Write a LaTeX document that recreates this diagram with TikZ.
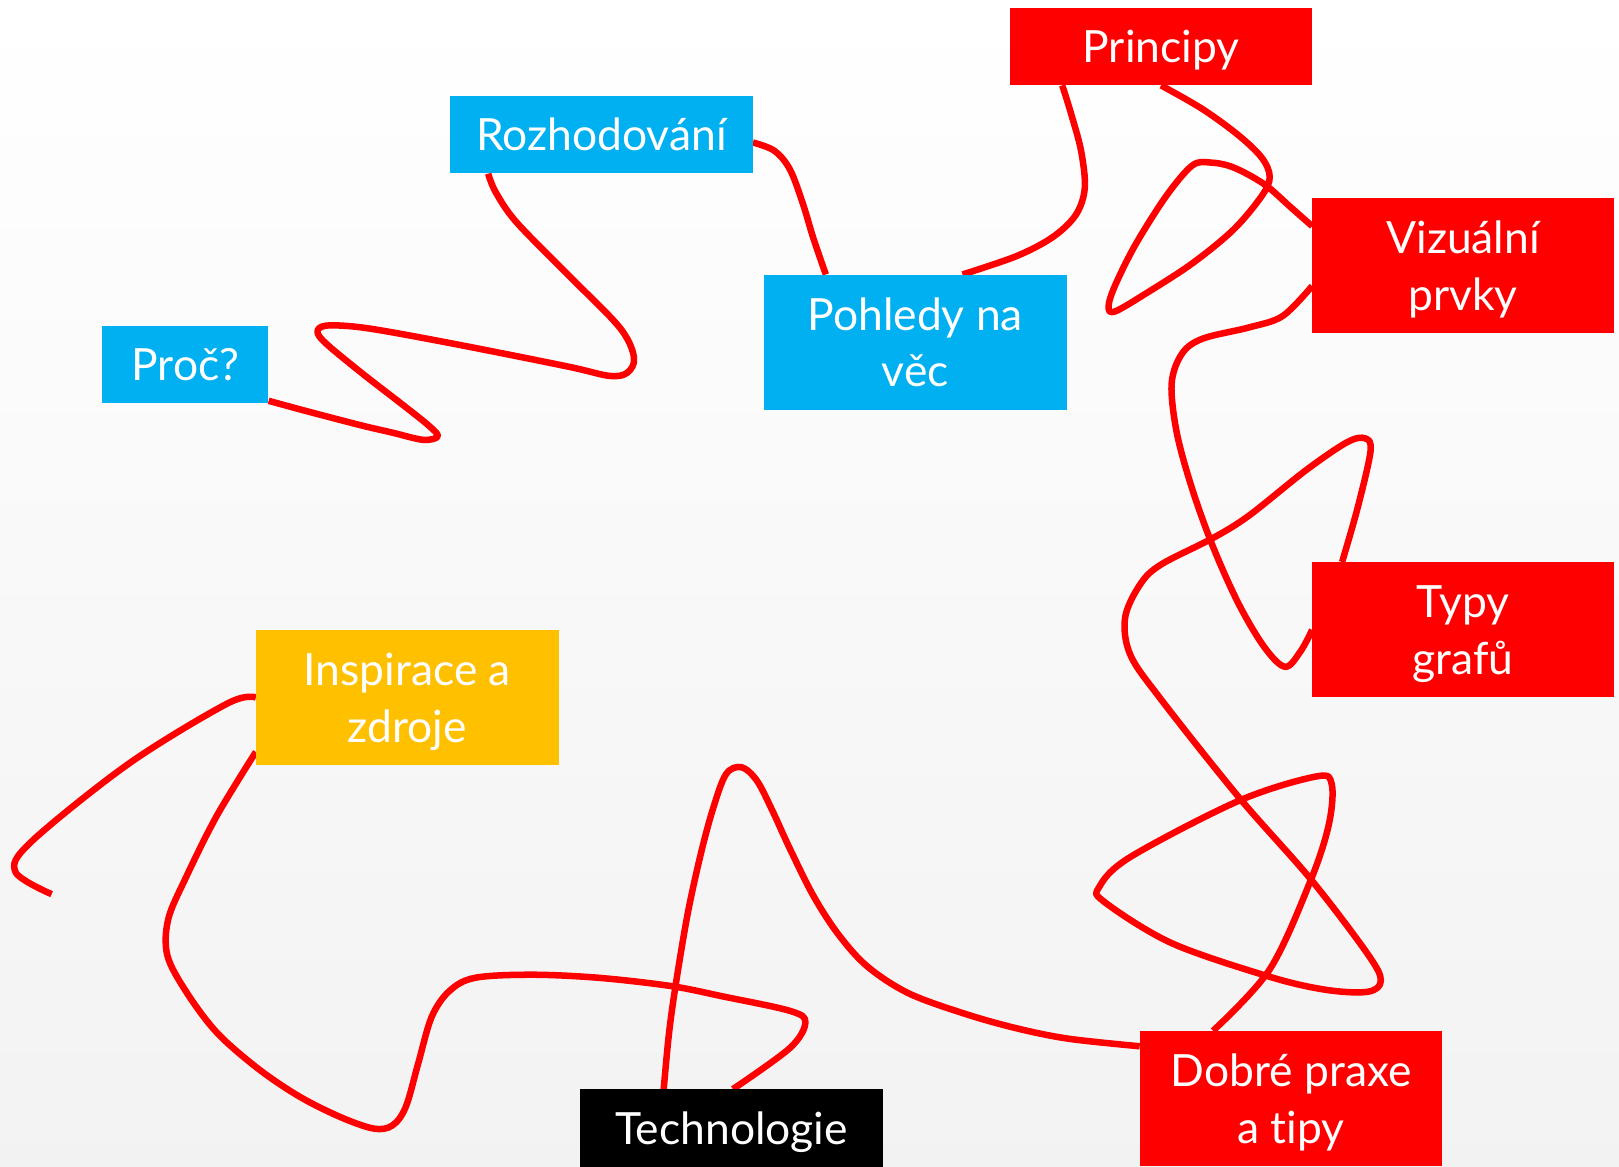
\documentclass[tikz,border=0pt]{standalone}
\usepackage{fontspec}
\setmainfont[Ligatures=NoCommon]{Lato}
\definecolor{boxblue}{HTML}{00B0F0}
\definecolor{boxred}{HTML}{FF0000}
\definecolor{boxyellow}{HTML}{FFC000}
\definecolor{wire}{HTML}{FF0000}
\newcommand{\lowtext}[1]{\raisebox{-4pt}[\height][\depth]{#1}}
\pgfdeclarelayer{background}
\pgfdeclarelayer{lines}
\pgfsetlayers{background,lines,main}
\begin{document}
\begin{tikzpicture}[x=1pt,y=-1pt,
  box/.style={rectangle, inner sep=0pt, text=white, font=\fontsize{43}{55}\selectfont, align=center, minimum width=293pt},
  shortbox/.style={box, minimum height=75pt},
  tallbox/.style={box, minimum height=131pt},
  wireline/.style={draw=wire, line width=6.3pt, line join=round}]
\useasboundingbox (0,0) rectangle (1568,1130);
\begin{pgfonlayer}{background}
\shade[top color=white, bottom color=black!5] (0,0) rectangle (1568,1130);
\end{pgfonlayer}

\node[shortbox, fill=boxred] (prin) at (1124.5,45) {\lowtext{Principy}};
\node[shortbox, fill=boxblue] (rozh) at (582.5,130.5) {Rozhodování};
\node[box, fill=boxblue, minimum width=161pt, minimum height=74pt] (proc) at (179.5,353) {Proč?};
\node[tallbox, fill=boxblue] (pohl) at (886.5,331.5) {Pohledy na\\věc};
\node[tallbox, fill=boxred, minimum width=292pt] (viz) at (1417,257) {\lowtext{Vizuální}\\\lowtext{prvky}};
\node[tallbox, fill=boxred, minimum width=292pt] (typy) at (1417,610) {\lowtext{Typy}\\\lowtext{grafů}};
\node[tallbox, fill=boxyellow] (insp) at (394.5,675.5) {\lowtext{Inspirace a}\\\lowtext{zdroje}};
\node[shortbox, fill=black] (tech) at (708.5,1092.5) {\lowtext{Technologie}};
\node[tallbox, fill=boxred] (dobre) at (1250.5,1064) {\lowtext{Dobré praxe}\\\lowtext{a tipy}};
\coordinate (loose) at (50,866);

\begin{pgfonlayer}{lines}
% Proc -> Rozhodovani
\draw[wireline] plot[smooth, tension=0.55] coordinates {
 ([yshift=2pt]proc.south east) (300,399) (350,412) (380,419) (410,426) (424,422.5)
 (415,412) (390,392) (350,361) (315,332) (307.5,321) (315,315.5) (340,316)
 (375,321) (450,335) (550,355) (590,364) (607.5,361) (614,346) (600,317)
 (550,266) (500,215) (480,186) ([xshift=37pt]rozh.south west)};
% Rozhodovani -> Pohledy
\draw[wireline] plot[smooth, tension=0.55] coordinates {
 ([yshift=-7.5pt]rozh.east) (750,146) (765,164) (777.5,197) (787.5,230) ([xshift=60pt]pohl.north west)};
% Pohledy -> Principy
\draw[wireline] plot[smooth, tension=0.55] coordinates {
 ([xshift=-101pt]pohl.north east) (984.6,248) (1019.6,229.6) (1042,208) (1050.6,182) (1047,146) (1037,109) ([xshift=51pt]prin.south west)};
% Principy -> Vizualni
\draw[wireline] plot[smooth, tension=0.55] coordinates {
 (prin.south) (1164.7,105.7) (1199.7,131.2) (1222.2,153) (1229.7,171.3) (1222.2,189.5)
 (1194.7,222.3) (1154.7,255.1) (1109.7,284.3) (1079.7,301.7) (1073.6,297) (1079.7,277)
 (1099.7,236.9) (1129.7,189.5) (1154.7,160.3) (1172.2,157.4) (1194.7,162.2) (1224.7,178.6)
 (1249.7,200.4) ([yshift=38pt]viz.west)};
% Vizualni -> Typy
\draw[wireline] plot[smooth, tension=0.55] coordinates {
 ([yshift=-20pt]viz.west) (1242.2,306.1) (1209.7,317.1) (1164.7,328) (1144.7,342.6) (1134.7,371.7)
 (1139.7,419.1) (1154.7,473.8) (1175,530) (1199.7,585) (1224.7,627) (1244.7,645.8)
 (1259.7,630.6) (typy.west)};
% Typy -> Dobre praxe
\draw[wireline] plot[smooth, tension=0.55] coordinates {
 ([xshift=29pt]typy.north west) (1314.8,492) (1327.3,437.3) (1322.3,424.6) (1304.8,428.2)
 (1264.7,455.5) (1209.7,499.3) (1174.7,521.1) (1124.7,546.6) (1104.7,565.3) (1089.7,597.9)
 (1094.7,634.2) (1124.7,677.7) (1199.7,772) (1269.7,851.8) (1324.8,924.3) (1337.3,949.7)
 (1324.8,960.5) (1284.7,958.7) (1229.7,946) (1134.7,913.4) (1069.6,873.5) (1064.6,859)
 (1094.7,830) (1199.7,775.6) (1274.7,752) (1289.7,759.3) (1287.2,797.4) (1269.7,851.8)
 (1229.7,938.8) ([xshift=71pt]dobre.north west)};
% Dobre praxe -> Technologie
\draw[wireline] plot[smooth, tension=0.55] coordinates {
 ([yshift=-15pt]dobre.north west) (1035,1006) (985,996) (935,982) (880,962) (840,936)
 (812,905) (788,868) (765,822) (748,785) (733,756) (718,743) (703,750) (690,785)
 (678,830) (666,885) (655,950) (648,1000) ([xshift=81pt]tech.north west)};
% Technologie -> Inspirace
\draw[wireline] plot[smooth, tension=0.55] coordinates {
 ([xshift=148pt]tech.north west) (765,1015) (780,990) (765,979) (700,965) (650,955)
 (580,947) (515,944) (460,947) (435,960) (418,985) (405,1030) (393,1072) (380,1090)
 (362,1093) (330,1082) (290,1062) (250,1035) (210,1000) (180,960) (162,925) (163,890)
 (180,850) (210,790) ([yshift=13pt]insp.south west)};
% Inspirace -> loose end
\draw[wireline] plot[smooth, tension=0.55] coordinates {
 (insp.west) (220.1,681.4) (125,739.4) (30,815.5) (15,844.5) (loose)};
\end{pgfonlayer}
\end{tikzpicture}
\end{document}
